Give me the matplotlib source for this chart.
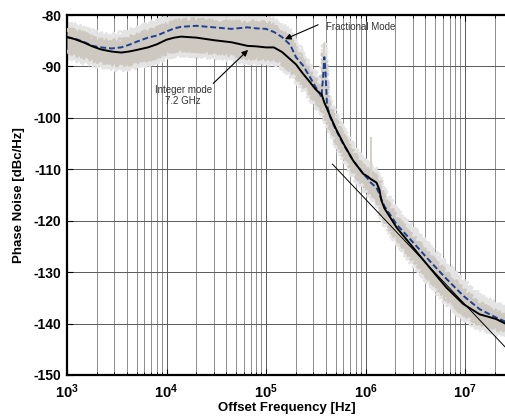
import matplotlib
matplotlib.use("Agg")
import matplotlib.pyplot as plt
from matplotlib.ticker import LogLocator, FixedLocator, NullFormatter

plt.rcParams['font.family'] = ['Liberation Sans', 'DejaVu Sans']
plt.rcParams['mathtext.fontset'] = 'custom'
plt.rcParams['mathtext.rm'] = 'Liberation Sans:bold'
plt.rcParams['mathtext.bf'] = 'Liberation Sans:bold'

# offset frequency grid [Hz]
freq = [1.0e3, 1.2e3, 1.5e3, 1.8e3, 2.2e3, 2.8e3, 3.5e3, 4.2e3, 5e3, 6.5e3,
        8e3, 1e4, 1.2e4, 1.4e4, 2e4, 3e4, 4.5e4, 6.5e4, 8e4, 1e5,
        1.2e5, 1.45e5, 1.75e5, 2e5, 2.35e5, 2.75e5, 3.1e5, 3.45e5, 3.6e5, 3.75e5,
        3.85e5, 3.95e5, 4.1e5, 4.4e5, 5e5, 6e5, 7.5e5, 9.5e5, 1.05e6, 1.13e6,
        1.29e6, 1.38e6, 1.44e6, 1.55e6, 2.05e6, 3e6, 4.4e6, 6.5e6, 9.6e6, 1.4e7,
        2.04e7, 2.6e7]

integer_mode = [-84.3, -84.7, -85.4, -86.1, -86.7, -87.1, -87.3, -87.1, -86.8, -86.3,
                -85.7, -84.8, -84.4, -84.2, -84.4, -84.9, -85.3, -86.0, -86.1, -86.3,
                -86.3, -87.2, -88.6, -89.6, -91.4, -93.0, -94.3, -95.2, -95.3, -96.3,
                -97.0, -97.5, -98.2, -99.6, -102.0, -105.0, -108.3, -110.9, -111.4, -111.9,
                -112.6, -114.0, -116.0, -117.6, -121.3, -125.2, -129.1, -133.0, -136.2, -138.2,
                -139.1, -140.1]

fractional_mode = [-84.3, -84.6, -85.3, -86.0, -86.3, -86.5, -86.3, -85.8, -85.2, -84.4,
                   -84.0, -83.2, -82.6, -82.3, -82.1, -82.4, -82.7, -82.4, -82.6, -82.7,
                   -83.3, -84.3, -85.8, -88.2, -89.8, -92.0, -93.8, -95.2, -96.0, -92.0,
                   -88.2, -90.5, -97.5, -99.8, -102.2, -105.2, -108.3, -110.9, -111.8, -112.6,
                   -113.6, -114.8, -115.8, -117.2, -120.7, -124.2, -127.8, -131.3, -134.6, -137.2,
                   -138.8, -139.7]

# raw measurement spread (dark and light gray traces)
raw_hi = [-82.8, -83.2, -83.8, -84.6, -85.0, -85.2, -85.0, -84.6, -84.0, -83.2,
          -82.8, -82.0, -81.4, -81.2, -81.0, -81.4, -81.6, -81.4, -81.6, -81.6,
          -82.2, -83.2, -84.8, -87.0, -88.8, -90.8, -92.6, -94.0, -94.6, -91.2,
          -87.6, -89.8, -96.8, -98.4, -100.8, -103.8, -107.0, -109.6, -110.2, -110.8,
          -111.6, -112.6, -114.2, -115.8, -119.6, -123.2, -126.8, -130.2, -133.6, -136.2,
          -137.8, -138.6]
raw_lo = [-87.0, -87.6, -88.1, -88.6, -89.0, -89.4, -89.6, -89.4, -89.0, -88.6,
          -88.0, -87.2, -86.8, -86.6, -86.8, -87.2, -87.6, -88.2, -88.2, -88.4,
          -88.4, -89.2, -90.6, -91.6, -93.4, -95.0, -96.4, -97.4, -97.8, -98.4,
          -99.0, -99.4, -100.2, -101.6, -104.0, -107.0, -110.2, -112.8, -113.6, -114.4,
          -115.4, -116.8, -118.2, -119.6, -123.2, -127.4, -131.2, -135.0, -138.0, -140.0,
          -140.8, -141.6]
raw2_hi = [-81.8, -82.0, -82.8, -83.2, -83.8, -84.0, -83.6, -83.2, -82.6, -81.8,
           -81.4, -80.6, -80.2, -80.0, -80.0, -80.2, -80.4, -80.2, -80.4, -80.4,
           -81.0, -81.8, -83.4, -85.4, -87.4, -89.4, -91.2, -92.6, -93.0, -89.0,
           -85.4, -87.6, -95.4, -97.0, -99.4, -102.4, -105.6, -108.2, -108.8, -109.4,
           -110.2, -111.2, -112.8, -114.4, -118.0, -121.4, -125.0, -128.4, -131.8, -134.6,
           -136.2, -137.0]
raw2_lo = [-88.0, -88.6, -89.2, -89.6, -90.0, -90.3, -90.6, -90.3, -90.0, -89.6,
           -89.0, -88.2, -87.8, -87.6, -87.8, -88.2, -88.6, -89.2, -89.2, -89.4,
           -89.4, -90.2, -91.6, -92.6, -94.4, -96.0, -97.4, -98.4, -98.8, -99.4,
           -100.0, -100.4, -101.2, -102.6, -105.0, -108.0, -111.2, -113.8, -114.6, -115.4,
           -116.4, -117.8, -119.2, -120.6, -124.2, -128.4, -132.2, -136.0, -139.0, -141.0,
           -141.8, -142.6]

# isolated spurs in the raw trace
spur_freq = [3.85e5, 1.13e6]
spur_top = [-85.5, -103.8]
spur_base = [-97.0, -111.9]

# -20 dB/dec reference slope
slope_f = [4.65e5, 2.6e7]
slope_db = [-109.0, -144.8]

light_gray = '#e4e4e4'
beige = '#cdc9c0'

fig = plt.figure(figsize=(5.06, 4.18), dpi=100)
ax = fig.add_axes([0.1324, 0.1029, 0.8676, 0.8612])

ax.set_xscale('log')
ax.set_xlim(1e3, 2.58e7)
ax.set_ylim(-150, -80)

ax.fill_between(freq, raw2_lo, raw2_hi, color=light_gray, lw=0, zorder=2)
for edge in (raw2_lo, raw2_hi):
    ln, = ax.plot(freq, edge, color=light_gray, lw=1.6, zorder=2)
    ln.set_sketch_params(scale=2.5, length=1.2, randomness=2)
ax.fill_between(freq, raw_lo, raw_hi, color=beige, lw=0, zorder=3)
for edge in (raw_lo, raw_hi):
    ln, = ax.plot(freq, edge, color=beige, lw=1.6, zorder=3)
    ln.set_sketch_params(scale=2.5, length=1.2, randomness=2)
ax.vlines(spur_freq, spur_base, spur_top, color='#d6d2ca', lw=1.5, zorder=3)

ax.plot(freq, fractional_mode, color='#1f3f94', lw=1.4, ls=(0, (3, 1.5)), zorder=4)
ax.plot(freq, integer_mode, color='black', lw=1.4, zorder=5)
ax.plot(slope_f, slope_db, color='black', lw=0.7, zorder=5)

# grid
ax.xaxis.set_major_locator(LogLocator(base=10, numticks=10))
ax.xaxis.set_minor_locator(LogLocator(base=10, subs=range(2, 10), numticks=100))
ax.xaxis.set_minor_formatter(NullFormatter())
ax.yaxis.set_major_locator(FixedLocator(range(-150, -79, 10)))
ax.grid(which='major', axis='both', color='#5a5a5a', lw=0.7)
ax.grid(which='minor', axis='x', color='#7a7a7a', lw=0.6)
ax.set_axisbelow(True)

xt = [1e3, 1e4, 1e5, 1e6, 1e7]
ax.set_xticks(xt)
ax.set_xticklabels([r'$\mathbf{10^{%d}}$' % e for e in [3, 4, 5, 6, 7]])
ax.set_yticks(list(range(-150, -79, 10)))
ax.set_yticklabels([str(v) for v in range(-150, -79, 10)], fontweight='bold')

ax.tick_params(which='both', direction='in', top=True, right=False, labelsize=10, pad=4)
ax.tick_params(which='major', length=4, width=0.8)
ax.tick_params(which='minor', length=2.5, width=0.6)
ax.tick_params(axis='x', labelsize=10.5, pad=5)

for s in ['left', 'bottom', 'top']:
    ax.spines[s].set_linewidth(1.6)
ax.spines['right'].set_visible(False)

ax.set_xlabel('Offset Frequency [Hz]', fontsize=9.5, fontweight='bold', labelpad=1)
ax.set_ylabel('Phase Noise [dBc/Hz]', fontsize=9.5, fontweight='bold', labelpad=6)

arrow = dict(arrowstyle='-|>', color='black', lw=0.8, mutation_scale=9, shrinkA=0, shrinkB=0)
ax.annotate('', xy=(1.55e5, -84.7), xytext=(3.34e5, -81.9), arrowprops=arrow, zorder=6)
ax.text(4.0e5, -82.3, 'Fractional Mode', fontsize=7, color='#333333', ha='left', va='center', zorder=6)
ax.annotate('', xy=(6.6e4, -86.8), xytext=(2.95e4, -93.3), arrowprops=arrow, zorder=6)
ax.text(1.47e4, -95.6, 'Integer mode\n7.2 GHz', fontsize=7, color='#333333', ha='center', va='center',
        multialignment='center', linespacing=1.15, zorder=6)

fig.savefig('out.png', dpi=100)
